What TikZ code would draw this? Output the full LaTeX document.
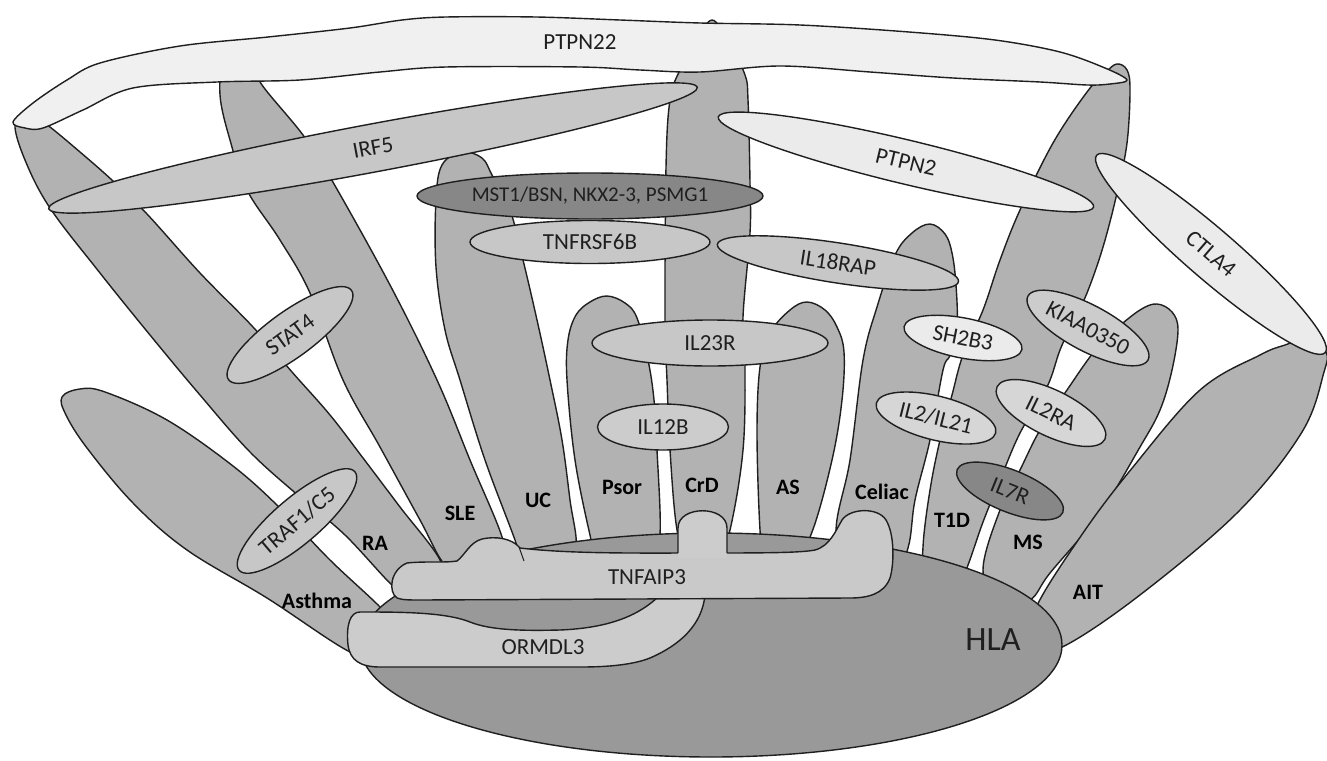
\documentclass[tikz,border=0pt]{standalone}
\usepackage{fontspec}
\setmainfont{Carlito}
\definecolor{fingc}{gray}{0.70}
\definecolor{hlac}{gray}{0.60}
\definecolor{tnfc}{gray}{0.79}
\definecolor{ormc}{gray}{0.80}
\definecolor{ptpnxx}{gray}{0.94}
\definecolor{vlight}{gray}{0.92}
\definecolor{light}{gray}{0.84}
\definecolor{midl}{gray}{0.78}
\definecolor{darkg}{gray}{0.53}
\definecolor{ink}{gray}{0.12}
\begin{document}
\begin{tikzpicture}[x=1pt,y=-1pt,line width=1.4pt,line join=round,
  outl/.style={draw=ink},
  finger/.style={outl,fill=fingc},
  lab/.style={text=ink,inner sep=0pt,font=\fontsize{23}{25}\selectfont},
  dis/.style={text=black,inner sep=0pt,font=\bfseries\fontsize{22}{24}\selectfont}]
\useasboundingbox (0,0) rectangle (1327,760);
\fill[white] (0,0) rectangle (1327,760);

% ---------------- disease fingers ----------------
% Asthma
\draw[finger] plot[smooth cycle,tension=0.6] coordinates {(62,397) (80,389) (105,392) (167,420) (233,466) (280,508) (330,560) (380,607) (398,630) (385,658) (350,652) (267,598) (187,550) (133,503) (87,448) (66,415)};
% RA
\draw[finger] plot[smooth cycle,tension=0.6] coordinates {(15,124) (30,116) (46,124) (80,152) (113,181) (147,214) (200,273) (253,327) (292,372) (330,415) (363,458) (400,507) (440,560) (440,588) (415,597) (395,588) (345,535) (300,497) (250,452) (200,395) (150,335) (100,273) (50,208) (25,160)};
% SLE
\draw[finger] plot[smooth cycle,tension=0.6] coordinates {(225,62) (250,60) (262,85) (303,135) (330,177) (390,285) (437,380) (470,460) (503,540) (500,565) (470,575) (445,565) (420,520) (380,447) (343,380) (310,293) (280,240) (247,190) (230,140) (220,95)};
% UC
\draw[finger] plot[smooth cycle,tension=0.6] coordinates {(442,165) (462,152) (482,158) (492,175) (510,210) (523,260) (537,320) (550,380) (562,440) (570,500) (576,548) (560,572) (525,572) (515,540) (485,460) (460,380) (445,330) (436,267) (436,200)};
% Psor
\draw[finger] plot[smooth cycle,tension=0.6] coordinates {(590,302) (607,296) (625,303) (637,318) (648,360) (654,400) (657,450) (660,535) (650,570) (600,570) (590,535) (575,460) (567,380) (568,340) (576,315)};
% CrD
\draw[finger] plot[smooth cycle,tension=0.6] coordinates {(712,20) (730,45) (745,75) (748,100) (750,183) (750,233) (743,317) (745,367) (743,450) (730,530) (715,570) (690,570) (677,530) (670,450) (667,380) (665,320) (666,167) (670,100) (680,70) (695,45)};
% AS
\draw[finger] plot[smooth cycle,tension=0.6] coordinates {(790,310) (807,302) (825,310) (837,327) (844,352) (842,400) (832,460) (812,532) (790,570) (765,565) (760,530) (757,433) (760,367) (770,333)};
% Celiac
\draw[finger] plot[smooth cycle,tension=0.6] coordinates {(912,233) (930,224) (945,234) (952,253) (956,285) (957,327) (950,355) (943,370) (930,440) (915,500) (908,548) (890,585) (850,585) (836,532) (850,460) (863,360) (877,307) (895,255)};
% T1D
\draw[finger] plot[smooth cycle,tension=0.6] coordinates {(1106,72) (1117,64) (1127,70) (1130,90) (1127,143) (1117,193) (1103,247) (1087,293) (1073,322) (1060,350) (1047,387) (1020,433) (1000,480) (983,522) (968,565) (955,595) (925,590) (923,547) (930,490) (940,440) (952,395) (963,355) (983,310) (1000,260) (1020,210) (1053,143) (1087,92)};
% MS
\draw[finger] plot[smooth cycle,tension=0.6] coordinates {(1140,310) (1157,304) (1172,312) (1178,330) (1172,370) (1160,410) (1140,447) (1100,513) (1050,573) (1030,600) (1000,605) (983,570) (1000,510) (1020,470) (1040,430) (1067,390) (1093,353) (1115,330)};
% AIT
\draw[finger] plot[smooth cycle,tension=0.6] coordinates {(1285,345) (1310,338) (1326,352) (1324,372) (1302,432) (1238,512) (1136,598) (1060,648) (1040,640) (1035,610) (1083,533) (1133,467) (1200,390) (1260,355)};

% ---------------- HLA, ORMDL3, TNFAIP3 ----------------
\coordinate (hla) at (711,645);
\draw[outl,fill=hlac] (hla) ellipse [x radius=351, y radius=112];
\draw[outl,fill=ormc] (360,612) .. controls (400,612) and (445,612) .. (470,622)
  .. controls (490,630) and (520,631) .. (560,630)
  .. controls (610,628) and (640,615) .. (660,595) -- (705,595)
  .. controls (702,625) and (680,645) .. (650,658)
  .. controls (630,666) and (600,667) .. (580,667) -- (380,667)
  .. controls (360,667) and (350,660) .. (348,645)
  .. controls (346,625) and (350,612) .. (360,612) -- cycle;
\draw[outl,fill=tnfc] (397,598) .. controls (388,592) and (390,570) .. (407,563)
  .. controls (425,561) and (445,563) .. (457,561)
  .. controls (465,555) and (470,542) .. (482,539)
  .. controls (495,536) and (512,538) .. (520,548)
  .. controls (570,554) and (640,553) .. (700,553)
  .. controls (760,553) and (800,553) .. (815,550)
  .. controls (830,546) and (836,530) .. (842,520)
  .. controls (850,508) and (878,507) .. (886,520)
  .. controls (895,535) and (894,565) .. (890,578)
  .. controls (884,594) and (868,598) .. (850,598)
  -- (420,600) .. controls (410,600) and (402,600) .. (397,598) -- cycle;
\draw[outl,line width=1pt] (519,547) -- (524,561);
\fill[ormc] (678,558) -- (678,528) .. controls (678,505) and (727,505) .. (727,528) -- (727,558) -- cycle;
\draw[outl] (678,553) -- (678,528) .. controls (678,505) and (727,505) .. (727,528) -- (727,553);

% ---------------- gene ovals (shapes) ----------------
\coordinate (irf5) at (373,148);
\coordinate (mst1) at (590,196);
\coordinate (tnfrsf6b) at (590,242);
\coordinate (il18rap) at (838,263);
\coordinate (ptpn2) at (906,162);
\coordinate (ctla4) at (1211,254);
\coordinate (kiaa) at (1088,328);
\coordinate (sh2b3) at (963,338);
\coordinate (il2) at (936,418);
\coordinate (il2ra) at (1051,413);
\coordinate (il7r) at (1010,491);
\coordinate (stat4) at (290,335);
\coordinate (traf1) at (297,521);
\coordinate (il23r) at (710,343);
\coordinate (il12b) at (663,427);

\draw[outl,fill=midl,rotate around={10.6:(irf5)}] (irf5) ellipse [x radius=330, y radius=24];
\draw[outl,fill=darkg] (mst1) ellipse [x radius=173, y radius=23];
\draw[outl,fill=midl] (tnfrsf6b) ellipse [x radius=120, y radius=21.5];
\draw[outl,fill=midl,rotate around={-8.8:(il18rap)}] (il18rap) ellipse [x radius=122, y radius=20];
\draw[outl,fill=vlight,rotate around={-13.5:(ptpn2)}] (ptpn2) ellipse [x radius=193, y radius=22];
\draw[outl,fill=vlight,rotate around={-40.8:(ctla4)}] (ctla4) ellipse [x radius=151, y radius=25];
\draw[outl,fill=ormc,rotate around={-28:(kiaa)}] (kiaa) ellipse [x radius=68, y radius=23];
\draw[outl,fill=vlight,rotate around={-11:(sh2b3)}] (sh2b3) ellipse [x radius=60, y radius=20];
\draw[outl,fill=light,rotate around={-14:(il2)}] (il2) ellipse [x radius=61.5, y radius=22];
\draw[outl,fill=light,rotate around={-26:(il2ra)}] (il2ra) ellipse [x radius=60, y radius=23];
\draw[outl,fill=darkg,rotate around={-22:(il7r)}] (il7r) ellipse [x radius=57, y radius=21];
\draw[outl,fill=midl,rotate around={36:(stat4)}] (stat4) ellipse [x radius=76, y radius=23];
\draw[outl,fill=midl,rotate around={40.4:(traf1)}] (traf1) ellipse [x radius=76, y radius=23];
\draw[outl,fill=midl] (il23r) ellipse [x radius=118, y radius=23];
\draw[outl,fill=ormc] (il12b) ellipse [x radius=65.5, y radius=23];

% ---------------- gene texts ----------------
\node[lab,rotate=10.6] (t-irf5) at (irf5) {IRF5};
\node[lab,font=\fontsize{21}{23}\selectfont] (t-mst1) at (mst1) {MST1/BSN, NKX2-3, PSMG1};
\node[lab] (t-tnfrsf6b) at (tnfrsf6b) {TNFRSF6B};
\node[lab,rotate=-8.8] (t-il18rap) at (il18rap) {IL18RAP};
\node[lab,rotate=-13.5] (t-ptpn2) at (ptpn2) {PTPN2};
\node[lab,rotate=-40.8] (t-ctla4) at (ctla4) {CTLA4};
\node[lab,rotate=-28] (t-kiaa) at (kiaa) {KIAA0350};
\node[lab,rotate=-11] (t-sh2b3) at (sh2b3) {SH2B3};
\node[lab,rotate=-14] (t-il2) at (il2) {IL2/IL21};
\node[lab,rotate=-26] (t-il2ra) at (il2ra) {IL2RA};
\node[lab,rotate=-22] (t-il7r) at (il7r) {IL7R};
\node[lab,rotate=36] (t-stat4) at (stat4) {STAT4};
\node[lab,rotate=40.4] (t-traf1) at (traf1) {TRAF1/C5};
\node[lab] (t-il23r) at (il23r) {IL23R};
\node[lab] (t-il12b) at (il12b) {IL12B};

% ---------------- PTPN22 band ----------------
\draw[outl,fill=ptpnxx] plot[smooth cycle,tension=0.55] coordinates {(13,122) (33,103) (67,80) (100,63) (180,46) (268,37) (350,28) (402,20) (446,17) (536,17) (620,20) (700,23) (800,25) (909,32) (995,40) (1060,52) (1105,68) (1127,80) (1110,84) (1087,85) (1040,82) (953,78) (870,72) (780,66) (700,72) (640,70) (580,67) (446,67) (380,72) (300,80) (217,82) (133,88) (83,110) (43,128) (25,128)};
\node[lab] (ptpn22) at (580,42) {PTPN22};

% ---------------- other labels ----------------
\node[lab] (tnfaip3) at (647,577) {TNFAIP3};
\node[lab] (ormdl3) at (543,647) {ORMDL3};
\node[lab,font=\fontsize{34}{36}\selectfont] (hlalab) at (993,640) {HLA};

\node[dis] (asthma) at (317,601) {Asthma};
\node[dis] (ra) at (375,543) {RA};
\node[dis] (sle) at (460,513) {SLE};
\node[dis] (uc) at (538,500) {UC};
\node[dis] (psor) at (622,487) {Psor};
\node[dis] (crd) at (702,485) {CrD};
\node[dis] (as) at (788,487) {AS};
\node[dis] (celiac) at (882,492) {Celiac};
\node[dis] (t1d) at (952,520) {T1D};
\node[dis] (ms) at (1028,542) {MS};
\node[dis] (ait) at (1088,592) {AIT};
\end{tikzpicture}
\end{document}
